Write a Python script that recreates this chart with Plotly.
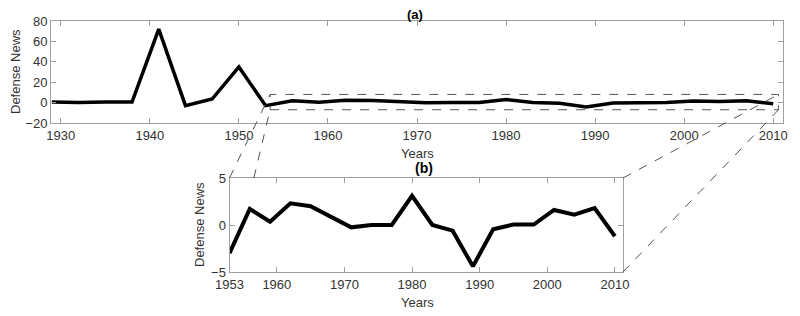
import plotly.graph_objects as go

# ---- data ----
years = [1929, 1932, 1935, 1938, 1941, 1944, 1947, 1950, 1953, 1956, 1959, 1962,
         1965, 1968, 1971, 1974, 1977, 1980, 1983, 1986, 1989, 1992, 1995, 1998,
         2001, 2004, 2007, 2010]
defense_news = [0.5, 0.0, 0.5, 0.5, 72.0, -3.0, 3.5, 35.0, -3.0, 1.7, 0.35, 2.3,
                2.0, 0.9, -0.25, 0.0, 0.0, 3.1, 0.0, -0.6, -4.4, -0.45, 0.05, 0.05,
                1.6, 1.1, 1.8, -1.2]
zoom_start = 1953
top_xticks = [1930, 1940, 1950, 1960, 1970, 1980, 1990, 2000, 2010]
top_yticks = [-20, 0, 20, 40, 60, 80]
bot_xticks = [1953, 1960, 1970, 1980, 1990, 2000, 2010]
bot_yticks = [-5, 0, 5]
box_x = [1953.5, 2010.6]
box_y = [-7, 8]

sub_years = [y for y in years if y >= zoom_start]
sub_vals = [v for y, v in zip(years, defense_news) if y >= zoom_start]

# page body has an 8px default margin, so the figure is 8px smaller
OFF = 8
W, H = 800 - OFF, 316 - OFF
ML, MR, MT, MB = 51 - OFF, 17, 21 - OFF, 44
PW, PH = W - ML - MR, H - MT - MB

def px_x(px):  # reference-pixel x -> paper
    return (px - 51) / PW

def px_y(py):  # reference-pixel y -> paper
    return (272 - py) / PH

dom_x1 = [0, 1]
dom_y1 = [px_y(123), 1]
dom_x2 = [px_x(229.5), px_x(623)]
dom_y2 = [0, px_y(178)]
rx1 = [1928.9, 2011.1]
ry1 = [-20, 80]
rx2 = [1953, 2011.2]
ry2 = [-5, 5]

def to_paper(v, rng, dom):
    return dom[0] + (v - rng[0]) / (rng[1] - rng[0]) * (dom[1] - dom[0])

FONT = "Liberation Sans, Arial, sans-serif"
GRAY = "#a0a0a0"
TXT = "#333333"

fig = go.Figure()
fig.add_trace(go.Scatter(x=years, y=defense_news, mode="lines",
                         line=dict(color="black", width=3.5), xaxis="x", yaxis="y",
                         showlegend=False))
fig.add_trace(go.Scatter(x=sub_years, y=sub_vals, mode="lines",
                         line=dict(color="black", width=4), xaxis="x2", yaxis="y2",
                         showlegend=False))

axcommon = dict(showline=True, linecolor=GRAY, linewidth=1, mirror="ticks",
                ticks="inside", ticklen=5, tickcolor=GRAY, showgrid=False,
                zeroline=False, automargin=False,
                tickfont=dict(family=FONT, size=13, color=TXT))

fig.update_layout(
    width=W, height=H, margin=dict(l=ML, r=MR, t=MT, b=MB, autoexpand=False),
    paper_bgcolor="white", plot_bgcolor="white",
    xaxis=dict(domain=dom_x1, range=rx1, tickvals=top_xticks, anchor="y", **axcommon),
    yaxis=dict(domain=dom_y1, range=ry1, tickvals=top_yticks, anchor="x", **axcommon),
    xaxis2=dict(domain=dom_x2, range=rx2, tickvals=bot_xticks, anchor="y2", **axcommon),
    yaxis2=dict(domain=dom_y2, range=ry2, tickvals=bot_yticks, anchor="x2", **axcommon),
)

# dashed zoom box on top panel
bx0 = to_paper(box_x[0], rx1, dom_x1)
bx1 = to_paper(box_x[1], rx1, dom_x1)
by0 = to_paper(box_y[0], ry1, dom_y1)
by1 = to_paper(box_y[1], ry1, dom_y1)
dash = dict(color="#555555", width=1, dash="dash")
fig.add_shape(type="rect", xref="paper", yref="paper", x0=bx0, x1=bx1, y0=by0, y1=by1,
              line=dash)

# connectors
p2_left = to_paper(rx2[0], rx2, dom_x2)
p2_mid = to_paper(1956.6, rx2, dom_x2)
p2_right = dom_x2[1]
p2_top = dom_y2[1]
p2_bot = dom_y2[0]
for (xa, ya, xb, yb) in [(p2_left, p2_top, bx0, by1), (p2_mid, p2_top, bx0, by0),
                         (p2_right, p2_top, bx1, by1), (p2_right, p2_bot, bx1, by0)]:
    fig.add_shape(type="line", xref="paper", yref="paper", x0=xa, y0=ya, x1=xb, y1=yb,
                  line=dash)

def ann(text, x, y, size=13, bold=False, angle=0):
    fig.add_annotation(text=f"<b>{text}</b>" if bold else text, x=px_x(x), y=px_y(y),
                       xref="paper", yref="paper", showarrow=False, textangle=angle,
                       font=dict(family=FONT, size=size, color=TXT if not bold else "black"),
                       xanchor="center", yanchor="middle")

ann("(a)", 415, 14, size=13, bold=True)
ann("Years", 417, 153)
ann("(b)", 424, 168, size=14, bold=True)
ann("Years", 417, 302)
ann("Defense News", 15, 72, angle=-90)
ann("Defense News", 199, 225, angle=-90)

fig.write_html("out.html")
